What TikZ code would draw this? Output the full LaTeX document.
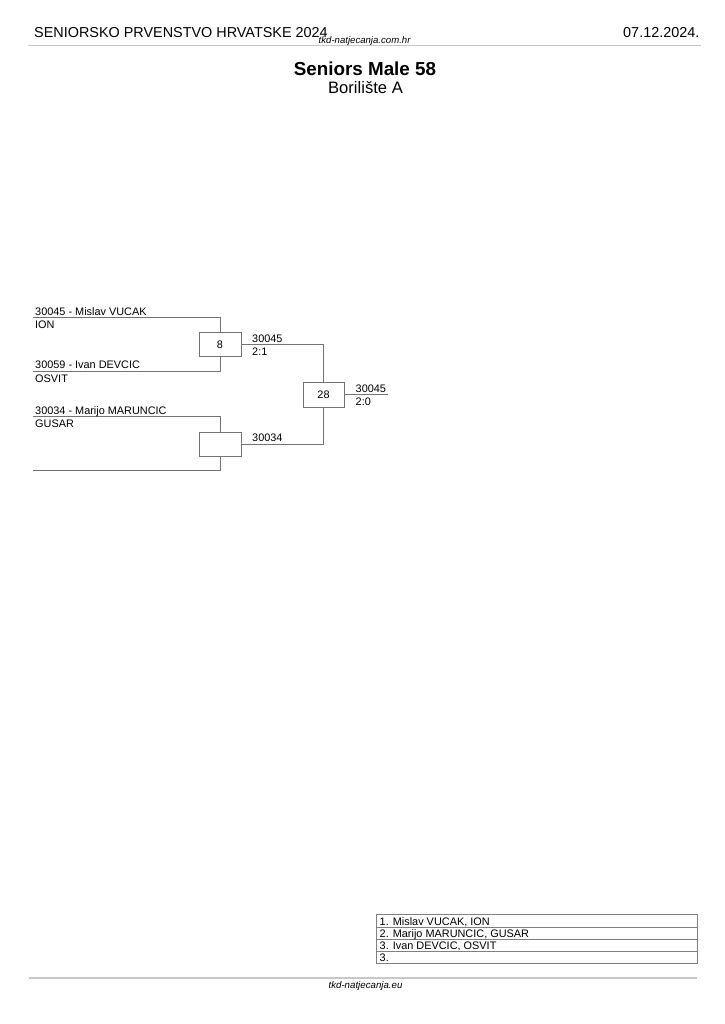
\documentclass[tikz,border=0pt]{standalone}
\usepackage{fontspec}
\setmainfont{Liberation Sans}
\begin{document}
\begin{tikzpicture}[x=1pt,y=-1pt,
  brline/.style={draw=black!55,line width=0.9pt},
  mbox/.style={draw=black!55,line width=0.9pt,minimum width=42pt,minimum height=24pt,inner sep=0pt,font=\fontsize{10.9}{12}\selectfont},
  btxt/.style={anchor=base west,inner sep=0pt,font=\fontsize{10.9}{12}\selectfont},
  ttxt/.style={anchor=base west,inner sep=0pt,font=\fontsize{10.9}{12}\selectfont},
  tline/.style={draw=black!50,line width=0.8pt},
  rule/.style={draw=black!22,line width=1.3pt}]
\useasboundingbox (0,0) rectangle (724,1024);
\fill[white] (0,0) rectangle (724,1024);
% header
\node[anchor=base west,inner sep=0pt,font=\fontsize{14.4}{16}\selectfont] (hdr) at (34,37.3) {SENIORSKO PRVENSTVO HRVATSKE 2024};
\node[anchor=base east,inner sep=0pt,font=\fontsize{14.4}{16}\selectfont] (date) at (699.5,37.3) {07.12.2024.};
\node[anchor=base west,inner sep=0pt,font=\fontsize{9.6}{11}\selectfont\itshape] (site1) at (318.5,44) {tkd-natjecanja.com.hr};
\coordinate (hl1) at (28,45.5);
\coordinate (hl2) at (701,45.5);
\draw[rule] (hl1) -- (hl2);
% title
\node[anchor=base,inner sep=0pt,font=\fontsize{18.8}{21}\selectfont\bfseries] (title) at (365,76) {Seniors Male 58};
\node[anchor=base,inner sep=0pt,font=\fontsize{16.6}{19}\selectfont] (arena) at (365.5,94) {Borilište A};
% bracket
\coordinate (e1) at (33,317.3);
\coordinate (e2) at (33,371);
\coordinate (e3) at (33,416.7);
\coordinate (e4) at (33,470.7);
\node[mbox] (m8) at (220,344.5) {8};
\node[mbox] (m8b) at (220,444) {};
\node[mbox,minimum width=41pt,minimum height=25pt] (m28) at (323.5,394.5) {28};
\coordinate (out) at (388,394.5);
\draw[brline] (e1) -| (m8.north);
\draw[brline] (e2) -| (m8.south);
\draw[brline] (e3) -| (m8b.north);
\draw[brline] (e4) -| (m8b.south);
\draw[brline] (m8.east) -| (m28.north);
\draw[brline] (m8b.east) -| (m28.south);
\draw[brline] (m28.east) -- (out);
\node[btxt] (n1) at (35,315) {30045 - Mislav VUCAK};
\node[btxt] (c1) at (35,328.3) {ION};
\node[btxt] (n2) at (35,368.7) {30059 - Ivan DEVCIC};
\node[btxt] (c2) at (35,382) {OSVIT};
\node[btxt] (n3) at (35,414.4) {30034 - Marijo MARUNCIC};
\node[btxt] (c3) at (35,427.7) {GUSAR};
\node[btxt] (w8) at (252,342.2) {30045};
\node[btxt] (s8) at (252,355.5) {2:1};
\node[btxt] (w8b) at (252,441.7) {30034};
\node[btxt] (w28) at (355.5,392.2) {30045};
\node[btxt] (s28) at (355.5,405.5) {2:0};
% results table
\draw[tline] (376,914.7) rectangle (697,963.5);
\foreach \yy in {926.9,939.1,951.3}{\draw[tline] (376,\yy) -- (697,\yy);}
\node[ttxt] (r1) at (379.5,925) {1. Mislav VUCAK, ION};
\node[ttxt] (r2) at (379.5,937.2) {2. Marijo MARUNCIC, GUSAR};
\node[ttxt] (r3) at (379.5,949.4) {3. Ivan DEVCIC, OSVIT};
\node[ttxt] (r4) at (379.5,961.6) {3.};
% footer
\coordinate (fl1) at (29,978);
\coordinate (fl2) at (697,978);
\draw[rule] (fl1) -- (fl2);
\node[anchor=base,inner sep=0pt,font=\fontsize{9.7}{11}\selectfont\itshape] (site2) at (365.5,988) {tkd-natjecanja.eu};
\end{tikzpicture}
\end{document}
